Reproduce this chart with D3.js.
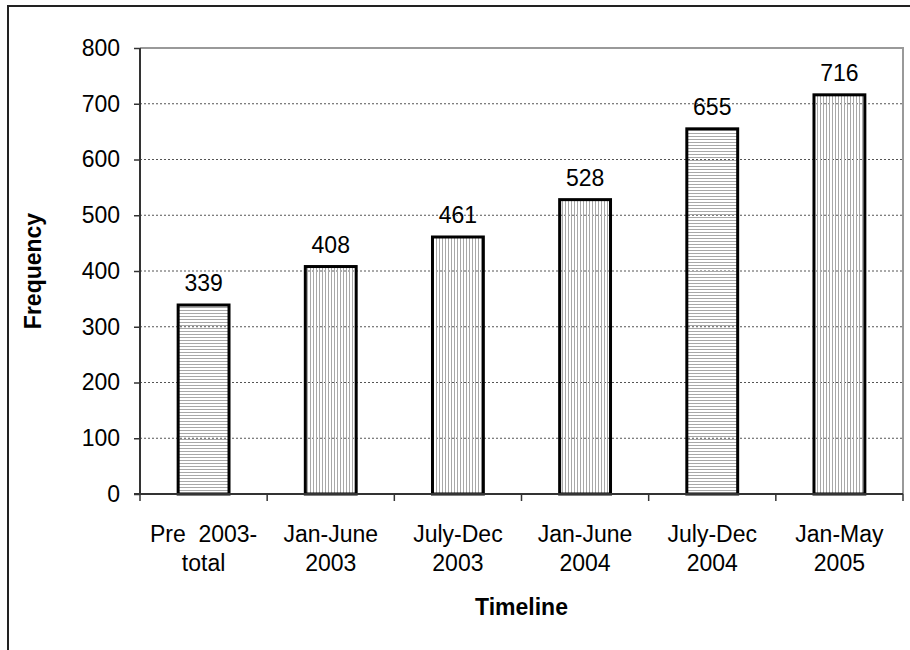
<!DOCTYPE html>
<html>
<head>
<meta charset="utf-8">
<script src="https://cdn.jsdelivr.net/npm/d3@7"></script>
<style>
  body { margin: 0; background: #fff; }
  svg { display: block; font-family: "Liberation Sans", Arial, sans-serif; }
</style>
</head>
<body>
<div id="container"></div>
<script>
const categories = [['Pre  2003-', 'total'], ['Jan-June', '2003'], ['July-Dec', '2003'], ['Jan-June', '2004'], ['July-Dec', '2004'], ['Jan-May', '2005']];
const values = [339, 408, 461, 528, 655, 716];
const stripes = ['h', 'v', 'v', 'v', 'h', 'v'];
const yTicks = [0, 100, 200, 300, 400, 500, 600, 700, 800];

const width = 910;
const height = 650;
const plot = { left: 140, right: 903, top: 48, bottom: 494 };
const fontSize = 23;

const svg = d3.select('#container')
    .append('svg')
    .attr('width', width)
    .attr('height', height);

const defs = svg.append('defs');
defs.append('pattern')
    .attr('id', 'stripe-h')
    .attr('patternUnits', 'userSpaceOnUse')
    .attr('width', 6).attr('height', 3)
    .append('rect')
    .attr('x', 0).attr('y', 1).attr('width', 6).attr('height', 1)
    .attr('fill', '#a8a8a8');
defs.append('pattern')
    .attr('id', 'stripe-v')
    .attr('patternUnits', 'userSpaceOnUse')
    .attr('width', 3).attr('height', 6)
    .append('rect')
    .attr('x', 1).attr('y', 0).attr('width', 1).attr('height', 6)
    .attr('fill', '#a8a8a8');

// outer frame (only top and left edges visible)
svg.append('path')
    .attr('d', 'M8,650 V6 H910')
    .attr('fill', 'none')
    .attr('stroke', '#222')
    .attr('stroke-width', 2);

const xScale = d3.scaleBand()
    .domain(d3.range(categories.length))
    .range([plot.left, plot.right])
    .paddingInner(0.6)
    .paddingOuter(0.3);

const xBand = d3.scaleBand()
    .domain(d3.range(categories.length))
    .range([plot.left, plot.right]);

const yScale = d3.scaleLinear()
    .domain([0, 800])
    .range([plot.bottom, plot.top]);

// gridlines
svg.append('g')
    .selectAll('line')
    .data(yTicks.filter((d) => d > 0 && d < 800))
    .enter()
    .append('line')
    .attr('x1', plot.left).attr('x2', plot.right)
    .attr('y1', (d) => yScale(d)).attr('y2', (d) => yScale(d))
    .attr('stroke', '#555')
    .attr('stroke-width', 1)
    .attr('stroke-dasharray', '2,2');

// plot area border (top and right)
svg.append('path')
    .attr('d', `M${plot.left},${yScale(800)} H${plot.right} V${plot.bottom}`)
    .attr('fill', 'none')
    .attr('stroke', '#999')
    .attr('stroke-width', 2);

// bars
svg.selectAll('.bar')
    .data(values)
    .enter()
    .append('rect')
    .attr('class', 'bar')
    .attr('x', (d, i) => xScale(i))
    .attr('y', (d) => yScale(d))
    .attr('width', xScale.bandwidth())
    .attr('height', (d) => yScale(0) - yScale(d))
    .attr('fill', (d, i) => 'url(#stripe-' + stripes[i] + ')')
    .attr('stroke', '#000')
    .attr('stroke-width', 3);

// value labels
svg.selectAll('.value')
    .data(values)
    .enter()
    .append('text')
    .attr('class', 'value')
    .attr('x', (d, i) => xScale(i) + xScale.bandwidth() / 2)
    .attr('y', (d) => yScale(d) - 14)
    .attr('text-anchor', 'middle')
    .attr('font-size', fontSize)
    .text((d) => d);

// y axis
const yAxis = d3.axisLeft(yScale)
    .tickValues(yTicks)
    .tickSize(6)
    .tickPadding(14);
const gy = svg.append('g')
    .attr('transform', `translate(${plot.left},0)`)
    .call(yAxis);
gy.select('.domain').attr('stroke', '#333').attr('stroke-width', 2).attr('d', `M0,${plot.top}V${plot.bottom}`);
gy.selectAll('.tick line').attr('stroke', '#333').attr('stroke-width', 1.5);
gy.selectAll('.tick text').attr('font-size', fontSize).attr('fill', '#000')
    .attr('font-family', '"Liberation Sans", Arial, sans-serif');

// x axis line and ticks at category boundaries
svg.append('line')
    .attr('x1', plot.left - 6).attr('x2', plot.right)
    .attr('y1', plot.bottom).attr('y2', plot.bottom)
    .attr('stroke', '#333').attr('stroke-width', 2);
svg.append('g')
    .selectAll('line')
    .data(d3.range(categories.length + 1))
    .enter()
    .append('line')
    .attr('x1', (i) => i < categories.length ? xBand(i) : plot.right)
    .attr('x2', (i) => i < categories.length ? xBand(i) : plot.right)
    .attr('y1', plot.bottom).attr('y2', plot.bottom + 7)
    .attr('stroke', '#333').attr('stroke-width', 1.5);

// x labels
const xl = svg.selectAll('.xlabel')
    .data(categories)
    .enter()
    .append('text')
    .attr('class', 'xlabel')
    .attr('text-anchor', 'middle')
    .attr('font-size', fontSize)
    .style('white-space', 'pre');
xl.each(function (d, i) {
    const t = d3.select(this);
    const cx = xBand(i) + xBand.bandwidth() / 2;
    d.forEach((line, j) => {
        t.append('tspan')
            .attr('x', cx)
            .attr('y', 542 + j * 29)
            .text(line);
    });
});

// axis titles
svg.append('text')
    .attr('x', (plot.left + plot.right) / 2)
    .attr('y', 615)
    .attr('text-anchor', 'middle')
    .attr('font-size', fontSize)
    .attr('font-weight', 'bold')
    .text('Timeline');

svg.append('text')
    .attr('transform', `translate(41, ${(plot.top + plot.bottom) / 2}) rotate(-90)`)
    .attr('text-anchor', 'middle')
    .attr('font-size', fontSize)
    .attr('font-weight', 'bold')
    .text('Frequency');
</script>
</body>
</html>
